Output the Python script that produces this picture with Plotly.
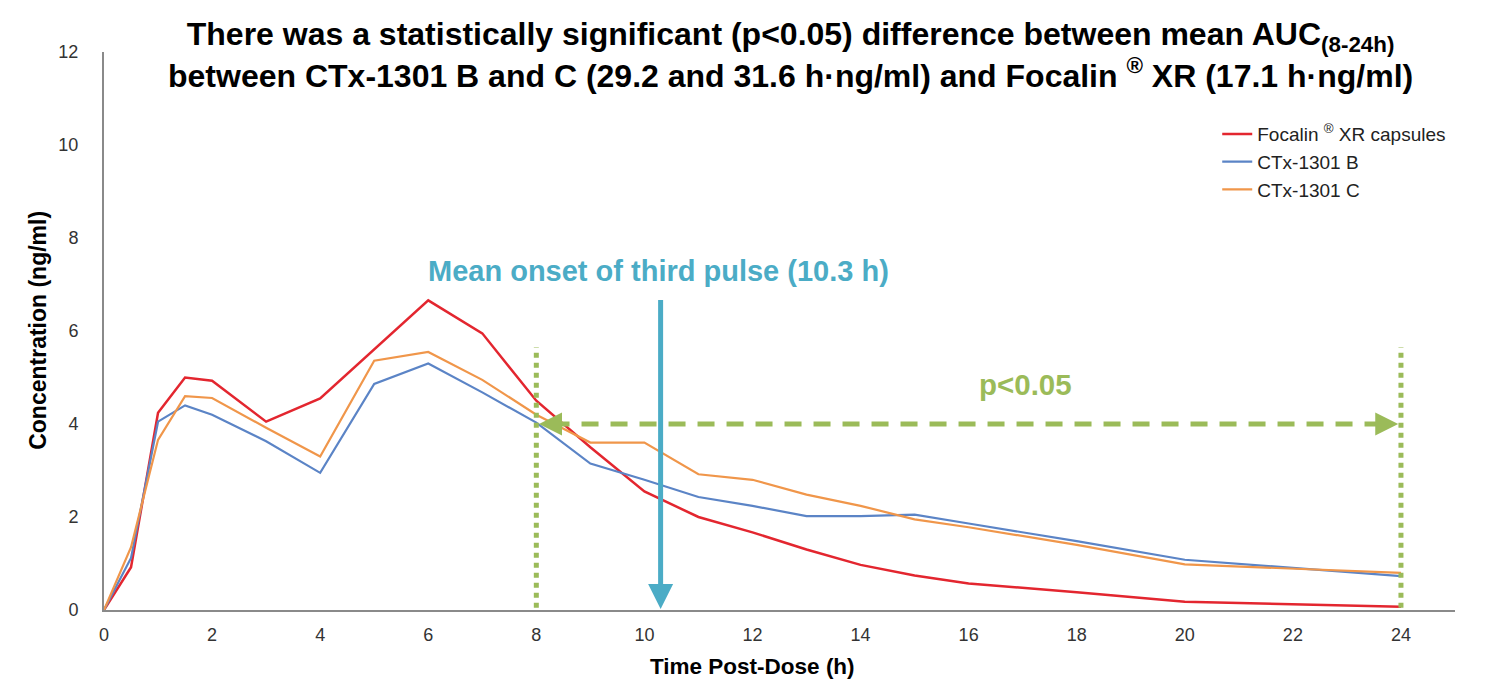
import plotly.graph_objects as go

# ---- data ----
time_h = [0, 0.5, 1, 1.5, 2, 3, 4, 5, 6, 7, 8, 9, 10, 11, 12, 13, 14, 15, 16, 18, 20, 24]
focalin = [0, 0.92, 4.24, 5.0, 4.93, 4.05, 4.55, 5.6, 6.66, 5.95, 4.5, 3.5, 2.55, 2.0, 1.67, 1.3, 0.97, 0.74, 0.57, 0.38, 0.18, 0.07]
ctx_b = [0, 1.12, 4.05, 4.4, 4.2, 3.63, 2.95, 4.86, 5.3, 4.68, 4.03, 3.15, 2.8, 2.43, 2.24, 2.02, 2.02, 2.05, 1.86, 1.48, 1.08, 0.73]
ctx_c = [0, 1.35, 3.66, 4.6, 4.56, 3.92, 3.3, 5.36, 5.55, 4.95, 4.2, 3.6, 3.6, 2.92, 2.8, 2.48, 2.24, 1.95, 1.78, 1.4, 0.98, 0.8]

series_names = ["Focalin <sup>®</sup> XR capsules", "CTx-1301 B", "CTx-1301 C"]
series_colors = ["#E3262F", "#5B84C6", "#F0964A"]

x_ticks = [0, 2, 4, 6, 8, 10, 12, 14, 16, 18, 20, 22, 24]
y_ticks = [0, 2, 4, 6, 8, 10, 12]

onset_h = 10.3
auc_start, auc_end = 8, 24
sig_level = 4.0

TEAL = "#4BACC6"
GREEN = "#9BBB59"
FONT = "Liberation Sans, Arial, sans-serif"

fig = go.Figure()
for name, ys, col, w in zip(series_names, [focalin, ctx_b, ctx_c], series_colors, [2.5, 2.2, 2.2]):
    fig.add_trace(go.Scatter(x=time_h, y=ys, mode="lines", name=name,
                             line=dict(color=col, width=w)))

# green dotted verticals
for xv in (auc_start, auc_end):
    fig.add_shape(type="line", x0=xv, x1=xv, y0=0.05, y1=5.65, xref="x", yref="y",
                  line=dict(color=GREEN, width=5, dash="dot"))
# green dashed horizontal
fig.add_shape(type="line", x0=auc_start + 0.3, x1=auc_end - 0.3, y0=sig_level, y1=sig_level,
              xref="x", yref="y", line=dict(color=GREEN, width=5, dash="17px,12px"))
# arrowheads on green line
fig.add_annotation(x=auc_start + 0.05, y=sig_level, ax=auc_start + 0.45, ay=sig_level,
                   xref="x", yref="y", axref="x", ayref="y", text="", showarrow=True,
                   arrowhead=2, arrowsize=1.15, arrowwidth=4, arrowcolor=GREEN)
fig.add_annotation(x=auc_end - 0.05, y=sig_level, ax=auc_end - 0.45, ay=sig_level,
                   xref="x", yref="y", axref="x", ayref="y", text="", showarrow=True,
                   arrowhead=2, arrowsize=1.15, arrowwidth=4, arrowcolor=GREEN)
# blue onset arrow
fig.add_annotation(x=onset_h, y=0.02, ax=onset_h, ay=6.7,
                   xref="x", yref="y", axref="x", ayref="y", text="", showarrow=True,
                   arrowhead=2, arrowsize=1.0, arrowwidth=5, arrowcolor=TEAL)
fig.add_annotation(x=onset_h - 0.04, y=7.3, xref="x", yref="y", showarrow=False,
                   text="<b>Mean onset of third pulse (10.3 h)</b>",
                   font=dict(family=FONT, size=29, color=TEAL))
fig.add_annotation(x=17.05, y=4.86, xref="x", yref="y", showarrow=False,
                   text="<b>p&lt;0.05</b>",
                   font=dict(family=FONT, size=29.5, color=GREEN))

# title
fig.add_annotation(x=0.508, y=0.9946, xref="paper", yref="paper", xanchor="center", yanchor="middle",
                   showarrow=False, align="center",
                   text="<b>There was a statistically significant (p&lt;0.05) difference between mean AUC<sub>(8-24h)</sub><br>"
                        "between CTx-1301 B and C (29.2 and 31.6 h·ng/ml) and Focalin <sup>®</sup> XR (17.1 h·ng/ml)</b>",
                   font=dict(family=FONT, size=32, color="black"))
# axis titles
fig.add_annotation(x=12, y=-0.102, xref="x", yref="paper", xanchor="center", yanchor="middle",
                   showarrow=False, text="<b>Time Post-Dose (h)</b>",
                   font=dict(family=FONT, size=22.5, color="black"))
fig.add_annotation(x=-0.0489, y=0.502, xref="paper", yref="paper", xanchor="center", yanchor="middle",
                   showarrow=False, textangle=-90, text="<b>Concentration (ng/ml)</b>",
                   font=dict(family=FONT, size=23, color="black"))

# the page body adds an 8px margin, so the figure is 8px smaller than the window
fig.update_layout(
    width=1484, height=674,
    margin=dict(l=96, r=37, t=44, b=72, autoexpand=False),
    paper_bgcolor="white", plot_bgcolor="white",
    font=dict(family=FONT, color="#222"),
    showlegend=True,
    legend=dict(x=0.824, y=0.887, xanchor="left", yanchor="top", bgcolor="rgba(0,0,0,0)",
                font=dict(family=FONT, size=19, color="#222"), tracegroupgap=0, itemwidth=30),
    xaxis=dict(range=[0, 25], tickvals=x_ticks, showgrid=False, zeroline=False, automargin=False,
               showline=True, linecolor="#8a8a8a", linewidth=2,
               ticks="outside", ticklen=7, tickcolor="rgba(0,0,0,0)",
               tickfont=dict(family=FONT, size=18, color="#333")),
    yaxis=dict(range=[0, 12], tickvals=y_ticks, showgrid=False, zeroline=False, automargin=False,
               showline=True, linecolor="#8a8a8a", linewidth=2,
               ticks="outside", ticklen=20, tickcolor="rgba(0,0,0,0)",
               tickfont=dict(family=FONT, size=18, color="#333")),
)

fig.write_html("out.html")
